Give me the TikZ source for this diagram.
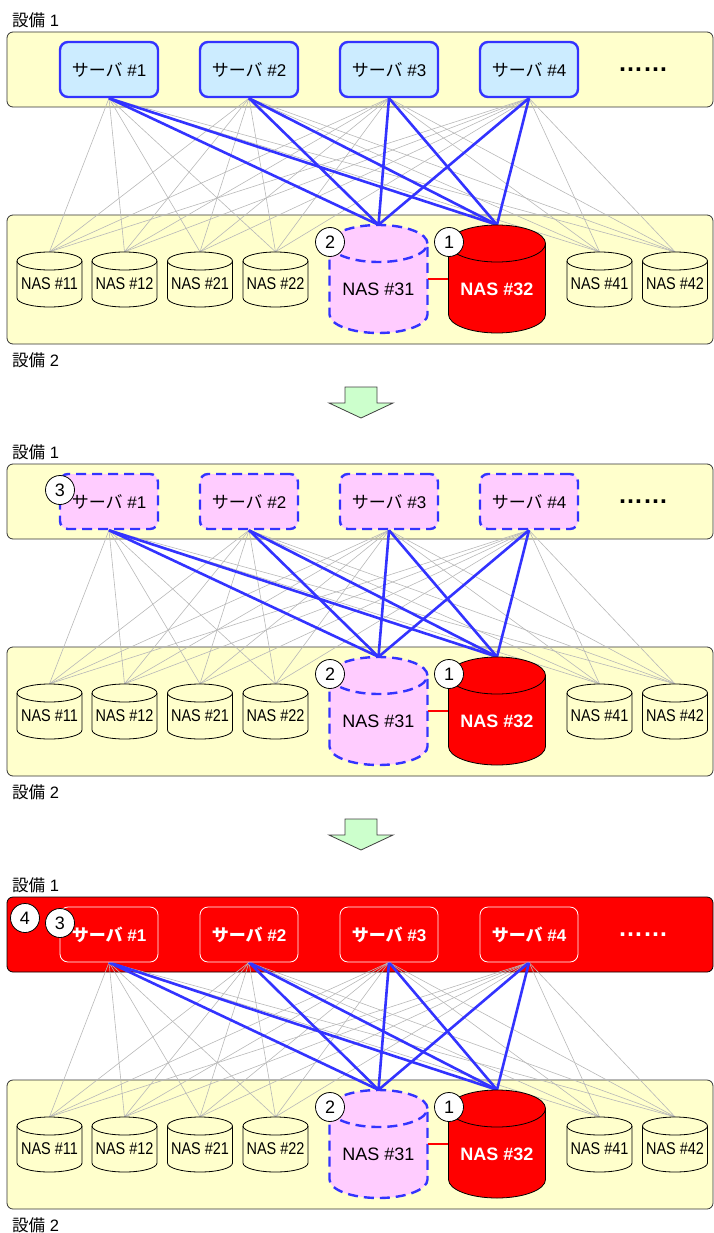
\documentclass[tikz,border=0pt]{standalone}
\usepackage{fontspec}
\setmainfont{Liberation Sans}
\newfontfamily\cjk{Noto Sans CJK JP}
\newfontfamily\narrowfont[FakeStretch=0.85]{Liberation Sans}

\definecolor{facyellow}{HTML}{FFFFCC}
\definecolor{srvblue}{HTML}{CCECFF}
\definecolor{linkblue}{HTML}{3333FF}
\definecolor{failpink}{HTML}{FFCCFF}
\definecolor{arrowgreen}{HTML}{CCFFCC}

\pgfdeclarelayer{back}
\pgfdeclarelayer{wires}
\pgfsetlayers{back,wires,main}

% label moved inside a node without changing its size
\newcommand{\up}[2]{\raisebox{#1}[\height][\depth]{#2}}

% drum: [line opts]{fill}{cx}{cy}{rx}{half height}{ry}
\newcommand{\drum}[7][]{%
  \fill[#2] ({#3-#5},{#4-#6+#7}) -- ({#3-#5},{#4+#6-#7})
    arc[start angle=180, end angle=360, x radius=#5pt, y radius=#7pt]
    -- ({#3+#5},{#4-#6+#7})
    arc[start angle=0, end angle=180, x radius=#5pt, y radius=#7pt] -- cycle;
  \draw[#1] ({#3-#5},{#4-#6+#7}) -- ({#3-#5},{#4+#6-#7})
    arc[start angle=180, end angle=360, x radius=#5pt, y radius=#7pt]
    -- ({#3+#5},{#4-#6+#7});
  \draw[#1] (#3,{#4-#6+#7}) ellipse[x radius=#5pt, y radius=#7pt];
}

\tikzset{
  facility/.style={draw=black!80, fill=facyellow, rounded corners=6pt, line width=0.8pt},
  server/.style={rectangle, rounded corners=8pt, minimum width=98pt, minimum height=55pt,
    line width=2.4pt, inner sep=0pt, font=\fontsize{17}{17}\selectfont},
  srvok/.style={server, draw=linkblue, fill=srvblue},
  srvdown/.style={server, draw=linkblue, fill=failpink, dash pattern=on 10pt off 6pt},
  srvred/.style={server, draw=white, fill=red, line width=0.8pt, text=white,
    font=\fontsize{17}{17}\selectfont\bfseries},
  nasbox/.style={rectangle, inner sep=0pt, minimum width=65pt, minimum height=55pt,
    font=\fontsize{17}{17}\narrowfont},
  nasbigbox/.style={rectangle, inner sep=0pt, minimum width=98pt, minimum height=108pt,
    font=\fontsize{18}{18}\selectfont},
  badge/.style={circle, draw, fill=white, line width=0.8pt, minimum size=29pt,
    inner sep=0pt, font=\fontsize{18}{18}\selectfont},
  wire/.style={draw=black!28, line width=0.6pt},
  uplink/.style={draw=linkblue, line width=2.6pt},
  flabel/.style={anchor=west, inner sep=0pt, font=\fontsize{16.5}{16.5}\selectfont},
  dots/.style={font=\fontsize{25}{25}\selectfont\bfseries, inner sep=0pt},
  shift arrow/.style={draw=black!75, fill=arrowgreen, line width=0.8pt}
}

% one small NAS: name, x, label
\newcommand{\smallnas}[3]{%
  \drum[line width=0.8pt]{facyellow}{#2}{279.5}{32.5}{27.5}{9}
  \node[nasbox] (#1) at (#2,279.5) {\up{-4.5pt}{#3}};
}

% lower facility with the NAS units
\newcommand{\storage}{%
  \begin{pgfonlayer}{back}
    \draw[facility] (7,215) rectangle (713,344);
  \end{pgfonlayer}
  \smallnas{n11}{49.5}{NAS \#11}
  \smallnas{n12}{124.5}{NAS \#12}
  \smallnas{n21}{200}{NAS \#21}
  \smallnas{n22}{275.5}{NAS \#22}
  \drum[draw=linkblue, line width=2.4pt, dash pattern=on 10pt off 6pt]{failpink}{378.5}{279}{49}{54}{18.5}
  \node[nasbigbox] (n31) at (378.5,279) {\up{-10pt}{NAS \#31}};
  \drum[line width=0.8pt]{red}{497}{279}{48.5}{54}{18.5}
  \node[nasbigbox, text=white, font=\fontsize{18}{18}\selectfont\bfseries] (n32) at (497,279) {\up{-10pt}{NAS \#32}};
  \smallnas{n41}{599.5}{NAS \#41}
  \smallnas{n42}{675}{NAS \#42}
  \draw[red, line width=2pt] (n31.east) -- (n32.west);
  \node[badge] (b2) at (330,242) {2};
  \node[badge] (b1) at (449,242) {1};
  \node[flabel] (f2) at (12,360) {{\cjk 設備} 2};
}

% every server sees every NAS
\newcommand{\wiring}{%
  \begin{pgfonlayer}{wires}
    \foreach \s in {s1,s2,s3,s4}{
      \foreach \n in {n11,n12,n21,n22,n31,n32,n41,n42}
        \draw[wire] (\s.south) -- (\n.north);
    }
    \foreach \s in {s1,s2,s3,s4}{
      \draw[uplink] (\s.south) -- (n31.north);
      \draw[uplink] (\s.south) -- (n32.north);
    }
  \end{pgfonlayer}}

\begin{document}
\begin{tikzpicture}[x=1pt, y=-1pt]
\useasboundingbox (0,0) rectangle (714,1233);

% step 1
\begin{scope}[name prefix=a-]
  \node[flabel] (f1) at (12,20) {{\cjk 設備} 1};
  \begin{pgfonlayer}{back}
    \draw[facility] (7,32) rectangle (713,107);
  \end{pgfonlayer}
  \node[srvok] (s1) at (109,69.5) {{\cjk サーバ} \#1};
  \node[srvok] (s2) at (249,69.5) {{\cjk サーバ} \#2};
  \node[srvok] (s3) at (389,69.5) {{\cjk サーバ} \#3};
  \node[srvok] (s4) at (529,69.5) {{\cjk サーバ} \#4};
  \node[dots] (more) at (643,70) {……};
  \storage
  \wiring
\end{scope}

\draw[shift arrow] (345,387) -- (377,387) -- (377,403) -- (393,403) -- (361,418) -- (329,403) -- (345,403) -- cycle;

% step 2
\begin{scope}[shift={(0,432)}, name prefix=b-]
  \node[flabel] (f1) at (12,20) {{\cjk 設備} 1};
  \begin{pgfonlayer}{back}
    \draw[facility] (7,32) rectangle (713,107);
  \end{pgfonlayer}
  \node[srvdown] (s1) at (109,69.5) {{\cjk サーバ} \#1};
  \node[srvdown] (s2) at (249,69.5) {{\cjk サーバ} \#2};
  \node[srvdown] (s3) at (389,69.5) {{\cjk サーバ} \#3};
  \node[srvdown] (s4) at (529,69.5) {{\cjk サーバ} \#4};
  \node[dots] (more) at (643,70) {……};
  \node[badge] (b3) at (60,58) {3};
  \storage
  \wiring
\end{scope}

\draw[shift arrow, shift={(0,432)}] (345,387) -- (377,387) -- (377,403) -- (393,403) -- (361,418) -- (329,403) -- (345,403) -- cycle;

% step 3
\begin{scope}[shift={(0,865)}, name prefix=c-]
  \node[flabel] (f1) at (12,20) {{\cjk 設備} 1};
  \begin{pgfonlayer}{back}
    \draw[facility, fill=red, draw=black] (7,32) rectangle (713,107);
  \end{pgfonlayer}
  \node[srvred] (s1) at (109,69.5) {{\cjk サーバ} \#1};
  \node[srvred] (s2) at (249,69.5) {{\cjk サーバ} \#2};
  \node[srvred] (s3) at (389,69.5) {{\cjk サーバ} \#3};
  \node[srvred] (s4) at (529,69.5) {{\cjk サーバ} \#4};
  \node[dots, text=white] (more) at (643,70) {……};
  \node[badge] (b4) at (25,53) {4};
  \node[badge] (b3) at (60,58) {3};
  \storage
  \wiring
\end{scope}

\end{tikzpicture}
\end{document}
